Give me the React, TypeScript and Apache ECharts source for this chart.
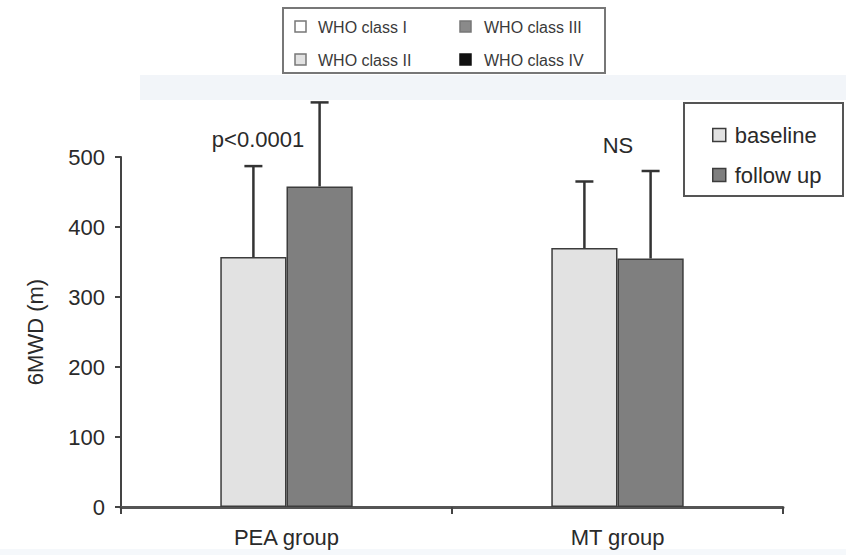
import React, { useEffect, useRef } from "react";
import * as echarts from "echarts";

const categories = ["PEA group", "MT group"];
const seriesNames = ["baseline", "follow up"];
const baselineMeans = [357, 370];
const followMeans = [458, 355];
const baselineSD = [130, 95];
const followSD = [120, 125];
const annotations = ["p<0.0001", "NS"];
const whoClasses = ["WHO class I", "WHO class II", "WHO class III", "WHO class IV"];
const yTicks = { min: 0, max: 500, interval: 100 };

const FONT = "'Liberation Sans', Arial, Helvetica, sans-serif";
const TXT = "#2a2a2a";
const BASE_FILL = "#e2e2e2";
const FOLLOW_FILL = "#7f7f7f";
const EDGE = "#3c3c3c";

function errorSeries(means: number[], sds: number[], sign: number) {
  return {
    type: "custom",
    coordinateSystem: "cartesian2d",
    clip: false,
    silent: true,
    z: 5,
    encode: { x: 0, y: 1 },
    data: means.map((m, i) => [i, m, sds[i]]),
    renderItem: (params: any, api: any) => {
      const ci = api.value(0);
      const mean = api.value(1);
      const sd = api.value(2);
      const base = api.coord([ci, mean]);
      const top = api.coord([ci, mean + sd]);
      const w = api.size([1, 0])[0] * 0.2;
      const x = base[0] + (sign * w) / 2;
      const style = { stroke: "#333", lineWidth: 2.5 };
      return {
        type: "group",
        children: [
          { type: "line", shape: { x1: x, y1: base[1], x2: x, y2: top[1] }, style },
          { type: "line", shape: { x1: x - 9, y1: top[1], x2: x + 9, y2: top[1] }, style },
        ],
      };
    },
  };
}

const whoFills = ["#ffffff", "#e2e2e2", "#8a8a8a", "#111111"];

function topLegend() {
  const children: any[] = [
    {
      type: "rect",
      shape: { x: 283, y: 8, width: 322, height: 65 },
      style: { fill: "#fff", stroke: "#777", lineWidth: 2 },
    },
  ];
  const cols = [[295, 318], [460, 484]];
  const rows = [27, 60];
  whoClasses.forEach((name, i) => {
    const col = i < 2 ? 0 : 1;
    const row = i % 2;
    children.push({
      type: "rect",
      shape: { x: cols[col][0], y: rows[row] - 6, width: 11, height: 11 },
      style: { fill: whoFills[i], stroke: i === 3 ? "#111" : "#777", lineWidth: 1.5 },
    });
    children.push({
      type: "text",
      x: cols[col][1],
      y: rows[row],
      style: {
        text: name,
        fill: "#3a3a3a",
        font: `16px ${FONT}`,
        verticalAlign: "middle",
        align: "left",
      },
    });
  });
  return { type: "group", children };
}

export default function App() {
  const ref = useRef<HTMLDivElement>(null);
  useEffect(() => {
    if (!ref.current) return;
    const chart = echarts.init(ref.current, null, { renderer: "svg" });
    chart.setOption({
      animation: false,
      backgroundColor: "#ffffff",
      grid: { left: 121, right: 63, top: 157, bottom: 48, containLabel: false },
      legend: {
        data: seriesNames,
        orient: "vertical",
        left: 707,
        top: 119,
        itemWidth: 13,
        itemHeight: 13,
        itemGap: 18,
        icon: "rect",
        itemStyle: { borderColor: EDGE, borderWidth: 1.5 },
        textStyle: { fontSize: 22, fontFamily: FONT, color: TXT, padding: [0, 0, 0, 4] },
      },
      xAxis: {
        type: "category",
        data: categories,
        axisLine: { show: true, lineStyle: { color: "#555", width: 3 } },
        axisTick: { show: true, length: 7, lineStyle: { color: "#444", width: 2 } },
        axisLabel: { fontSize: 22, fontFamily: FONT, color: TXT, margin: 19 },
      },
      yAxis: {
        type: "value",
        min: yTicks.min,
        max: yTicks.max,
        interval: yTicks.interval,
        name: "6MWD (m)",
        nameLocation: "middle",
        nameGap: 75,
        nameTextStyle: { fontSize: 22, fontFamily: FONT, color: TXT },
        axisLine: { show: true, lineStyle: { color: "#444", width: 2 } },
        axisTick: { show: true, length: 6, lineStyle: { color: "#444", width: 2 } },
        axisLabel: { fontSize: 22, fontFamily: FONT, color: TXT, margin: 16 },
        splitLine: { show: false },
      },
      series: [
        {
          name: seriesNames[0],
          type: "bar",
          data: baselineMeans,
          barWidth: "20%",
          barGap: "0%",
          itemStyle: { color: BASE_FILL, borderColor: EDGE, borderWidth: 1.5 },
        },
        {
          name: seriesNames[1],
          type: "bar",
          data: followMeans,
          barWidth: "20%",
          barGap: "0%",
          itemStyle: { color: FOLLOW_FILL, borderColor: EDGE, borderWidth: 1.5 },
        },
        errorSeries(baselineMeans, baselineSD, -1),
        errorSeries(followMeans, followSD, 1),
      ],
      graphic: [
        {
          type: "rect",
          z: -10,
          shape: { x: 140, y: 75, width: 706, height: 25 },
          style: { fill: "#f2f5f9" },
        },
        {
          type: "rect",
          z: -10,
          shape: { x: 0, y: 549, width: 846, height: 6 },
          style: { fill: "#f5f8fb" },
        },
        topLegend(),
        {
          type: "rect",
          shape: { x: 684, y: 103, width: 159, height: 93 },
          style: { fill: "transparent", stroke: "#555", lineWidth: 2 },
        },
        {
          type: "text",
          x: 258,
          y: 139,
          style: {
            text: annotations[0],
            font: `22px ${FONT}`,
            fill: TXT,
            align: "center",
            verticalAlign: "middle",
          },
        },
        {
          type: "text",
          x: 618,
          y: 145,
          style: {
            text: annotations[1],
            font: `22px ${FONT}`,
            fill: TXT,
            align: "center",
            verticalAlign: "middle",
          },
        },
      ],
    });
    return () => chart.dispose();
  }, []);
  return (
    <div
      ref={ref}
      style={{ position: "fixed", left: 0, top: 0, width: 846, height: 555 }}
    />
  );
}
